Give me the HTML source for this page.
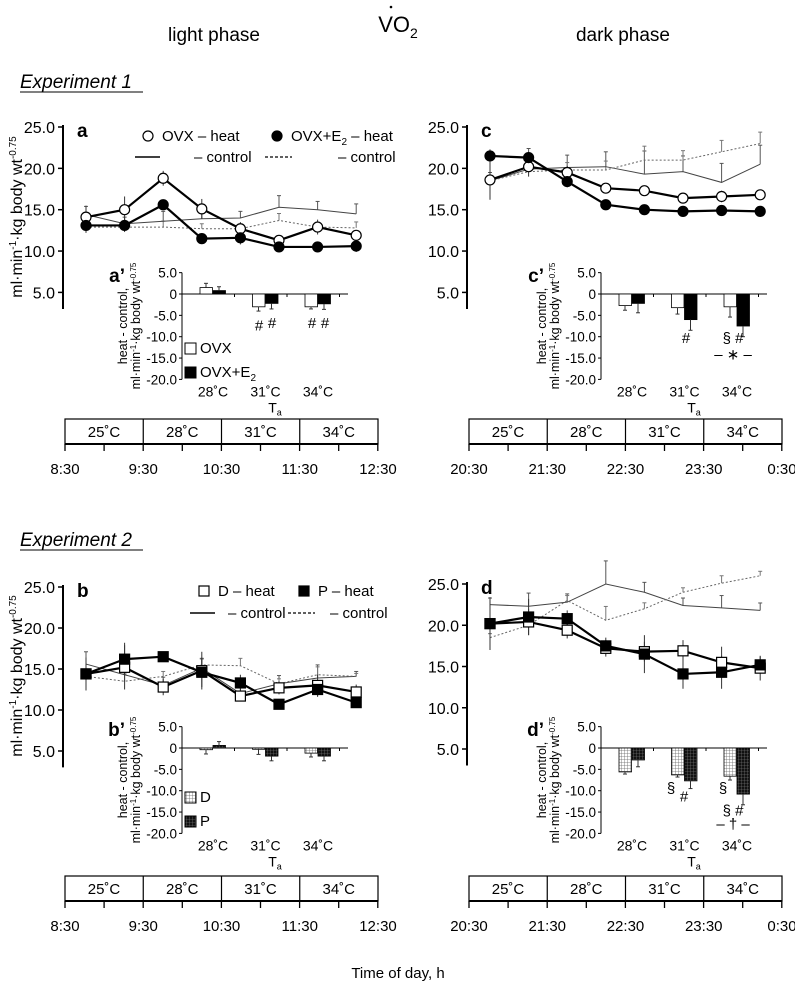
<!DOCTYPE html>
<html><head><meta charset="utf-8">
<style>
html,body{margin:0;padding:0;background:#fff;}
svg{display:block;font-family:"Liberation Sans",Arial,sans-serif;}
</style></head>
<body>
<svg id="fig" width="795" height="987" viewBox="0 0 795 987" xmlns="http://www.w3.org/2000/svg">
<defs>
<pattern id="gridLight" width="3" height="3" patternUnits="userSpaceOnUse"><rect width="3" height="3" fill="#fff"/><path d="M0 0H3M0 0V3" stroke="#666" stroke-width="0.8"/></pattern>
<pattern id="gridDark" width="3" height="3" patternUnits="userSpaceOnUse"><rect width="3" height="3" fill="#111"/><path d="M0 0H3M0 0V3" stroke="#888" stroke-width="0.6"/></pattern>
</defs>
<g id="static">
<text x="398" y="32" font-size="22" text-anchor="middle">VO<tspan font-size="14" dy="6">2</tspan></text>
<circle cx="391" cy="7" r="1.3" fill="#000"/>
<text x="214" y="41" font-size="19" text-anchor="middle">light phase</text>
<text x="623" y="41" font-size="19" text-anchor="middle">dark phase</text>
<text x="20" y="88" font-size="19" font-style="italic">Experiment 1</text>
<line x1="20" y1="92" x2="143" y2="92" stroke="#000" stroke-width="1"/>
<text x="20" y="546" font-size="19" font-style="italic">Experiment 2</text>
<line x1="20" y1="550" x2="143" y2="550" stroke="#000" stroke-width="1"/>
<text x="398" y="978" font-size="15" text-anchor="middle">Time of day, h</text>
<text transform="translate(22,217) rotate(-90)" font-size="16" text-anchor="middle">ml·min<tspan font-size="10" dy="-6">-1</tspan><tspan dy="6">·kg body wt</tspan><tspan font-size="10" dy="-6">-0.75</tspan></text>
<text transform="translate(22,676) rotate(-90)" font-size="16" text-anchor="middle">ml·min<tspan font-size="10" dy="-6">-1</tspan><tspan dy="6">·kg body wt</tspan><tspan font-size="10" dy="-6">-0.75</tspan></text>
</g>
<g id="plots"></g>
</svg>
<script>
// ---- data arrays ----
const timesLight = ["8:30","9:30","10:30","11:30","12:30"];
const timesDark = ["20:30","21:30","22:30","23:30","0:30"];
const tempLabels = ["25˚C","28˚C","31˚C","34˚C"];
const insetCats = ["28˚C","31˚C","34˚C"];
const mainTicks = [25,20,15,10,5];
const insetTicks = [5,0,-5,-10,-15,-20];

// panel a
const aOvxHeat = [14.1,15.0,18.8,15.1,12.7,11.3,12.9,11.9];
const aOvxHeatErr = [1.4,1.6,0.9,1.2,0.8,0.5,0.9,0.6];
const aE2Heat = [13.1,13.1,15.6,11.5,11.6,10.5,10.5,10.6];
const aE2HeatErr = [0.9,0.8,0.5,0.4,0.8,0.4,0.4,0.7];
const aOvxCtrl = [14.4,13.3,13.6,13.9,14.0,15.3,15.0,14.5];
const aE2Ctrl = [12.9,12.9,12.9,12.7,12.7,13.7,12.9,12.8];
const aCtrlErr = [1.0,0.8,1.2,1.0,0.8,1.4,1.0,1.2];
const apOvx = [1.5,-3.0,-3.0];
const apOvxErr = [1.0,1.0,0.5];
const apE2 = [0.8,-2.2,-2.3];
const apE2Err = [0.9,1.3,1.3];
// panel c
const cOvxHeat = [18.6,20.2,19.5,17.6,17.3,16.4,16.6,16.8];
const cOvxHeatErr = [2.4,1.2,0.8,0.6,0.5,0.5,0.7,0.5];
const cE2Heat = [21.5,21.3,18.4,15.6,15.0,14.8,14.9,14.8];
const cE2HeatErr = [0.8,0.7,0.7,0.4,0.3,0.5,0.5,0.5];
const cOvxCtrl = [18.5,19.9,20.1,20.2,19.3,19.6,18.3,20.5];
const cE2Ctrl = [18.5,19.6,19.8,19.8,21.0,21.0,22.0,23.0];
const cCtrlErr = [1.0,2.5,1.5,1.8,2.8,1.9,2.3,2.3];
const cpOvx = [-2.7,-3.2,-3.0];
const cpOvxErr = [1.1,1.5,2.4];
const cpE2 = [-2.2,-6.0,-7.5];
const cpE2Err = [2.2,2.5,2.5];
// panel b
const bDHeat = [14.4,15.2,12.8,14.8,11.7,12.7,13.0,12.2];
const bDHeatErr = [2.0,2.7,1.0,2.3,0.6,0.8,1.3,0.9];
const bPHeat = [14.4,16.2,16.5,14.6,13.3,10.7,12.5,10.9];
const bPHeatErr = [2.0,2.0,0.5,1.8,1.0,0.6,0.9,0.6];
const bDCtrl = [15.6,14.3,13.0,15.1,12.0,13.2,13.9,14.1];
const bPCtrl = [14.1,13.5,14.1,15.5,15.4,13.2,14.3,14.1];
const bCtrlErr = [1.5,1.5,1.0,1.2,1.5,1.0,1.6,0.6];
const bpD = [-0.4,-0.3,-1.2];
const bpDErr = [1.0,1.2,0.9];
const bpP = [0.6,-1.9,-1.9];
const bpPErr = [0.9,1.1,1.1];
// panel d
const dDHeat = [20.2,20.4,19.4,17.2,16.8,16.9,15.5,14.8];
const dDHeatErr = [3.2,1.6,1.0,1.0,1.2,1.3,1.9,1.5];
const dPHeat = [20.2,21.0,20.8,17.5,16.5,14.1,14.3,15.2];
const dPHeatErr = [3.2,2.2,1.0,1.0,2.3,1.8,2.0,1.0];
const dDCtrl = [22.5,22.3,22.8,25.0,24.0,22.4,22.1,21.8];
const dPCtrl = [18.5,20.0,23.0,20.6,22.0,24.0,25.1,26.0];
const dCtrlErr = [0.8,1.6,1.0,2.8,1.2,0.9,1.5,0.9];
const dpD = [-5.6,-6.3,-6.6];
const dpDErr = [0.5,0.5,0.9];
const dpP = [-2.8,-7.7,-10.8];
const dpPErr = [1.6,1.8,2.5];

const NS = "http://www.w3.org/2000/svg";
const root = document.getElementById("plots");
function el(tag, attrs, parent, text){
  const e = document.createElementNS(NS, tag);
  for (const k in attrs) e.setAttribute(k, attrs[k]);
  if (text !== undefined) e.textContent = text;
  (parent || root).appendChild(e);
  return e;
}

function drawPanel(p){
  const g = el("g", {});
  
  
  const x0 = p.axisX, y25 = p.y25, k = p.k;
  const ys = v => y25 + (25 - v) * k;
  const xs = i => x0 + 23 + i * 38.6;
  el("line", {x1:x0, y1:y25-2, x2:x0, y2:ys(3), stroke:"#000","stroke-width":2}, g);
  mainTicks.forEach(t => {
    el("line", {x1:x0-5, y1:ys(t), x2:x0, y2:ys(t), stroke:"#000","stroke-width":1.5}, g);
    const tx = el("text", {x:x0-8, y:ys(t)+6, "font-size":16, "text-anchor":"end"}, g, t.toFixed(1));
    
    
  });
  const lab = el("text", {x:x0+14, y:y25+10, "font-size":19, "font-weight":"bold"}, g, p.letter);
  
  
  const line = (arr, attrs, nm) => {
    const pl = el("polyline", Object.assign({points: arr.map((v,i)=>xs(i)+","+ys(v)).join(" "), fill:"none"}, attrs), g);
    
    
  };
  const errs = (arr, err, col) => arr.forEach((v,i) => {
    el("line", {x1:xs(i), y1:ys(v), x2:xs(i), y2:ys(v+err[i]), stroke:col, "stroke-width":1}, g);
    el("line", {x1:xs(i)-2, y1:ys(v+err[i]), x2:xs(i)+2, y2:ys(v+err[i]), stroke:col, "stroke-width":1}, g);
  });
  errs(p.c1, p.ce, "#555");
  errs(p.c2, p.ce.map(e=>e*0.6), "#777");
  line(p.c1, {stroke:"#444","stroke-width":1}, "control-1-line");
  line(p.c2, {stroke:"#666","stroke-width":1,"stroke-dasharray":"2,2"}, "control-2-line");
  p.h1.forEach((v,i)=>{ el("line",{x1:xs(i),y1:ys(v+p.h1e[i]),x2:xs(i),y2:ys(v-p.h1e[i]),stroke:"#333"},g); });
  p.h2.forEach((v,i)=>{ el("line",{x1:xs(i),y1:ys(v+p.h2e[i]),x2:xs(i),y2:ys(v-p.h2e[i]),stroke:"#333"},g); });
  line(p.h1, {stroke:"#000","stroke-width":2.2}, "heat-1-line");
  line(p.h2, {stroke:"#000","stroke-width":2.2}, "heat-2-line");
  const marker = (arr, fill, nm) => arr.forEach((v,i)=>{
    let m;
    if (p.shape === "circle") m = el("circle", {cx:xs(i), cy:ys(v), r:5, fill:fill, stroke:"#000","stroke-width":1.2}, g);
    else m = el("rect", {x:xs(i)-5, y:ys(v)-5, width:10, height:10, fill:fill, stroke:"#000","stroke-width":1.2}, g);
    
    
  });
  marker(p.h1, "#fff", "heat-1-point");
  marker(p.h2, "#000", "heat-2-point");
  if (p.legend) {
    const L = p.legend;
    const lg = el("g", {}, g);
    
    
    const mk = (x,y,fill) => p.shape==="circle" ? el("circle",{cx:x,cy:y,r:5,fill:fill,stroke:"#000","stroke-width":1.2},lg) : el("rect",{x:x-5,y:y-5,width:10,height:10,fill:fill,stroke:"#000","stroke-width":1.2},lg);
    mk(L.m1, L.y1, "#fff");
    el("text",{x:L.m1+14,y:L.y1+5,"font-size":15},lg,L.t1);
    mk(L.m2, L.y1, "#000");
    const t2 = el("text",{x:L.m2+14,y:L.y1+5,"font-size":15},lg);
    t2.innerHTML = L.t2;
    el("line",{x1:L.l1,y1:L.y2,x2:L.l1+25,y2:L.y2,stroke:"#000","stroke-width":1.5},lg);
    el("text",{x:L.c1,y:L.y2+5,"font-size":15},lg,"– control");
    el("line",{x1:L.l2,y1:L.y2,x2:L.l2+27,y2:L.y2,stroke:"#000","stroke-width":1.2,"stroke-dasharray":"3,2"},lg);
    el("text",{x:L.c2,y:L.y2+5,"font-size":15},lg,"– control");
  }
  const I = p.inset;
  const ig = el("g", {}, g);
  
  
  const iy0 = I.y0, ik = I.k;
  const iy = v => iy0 - v * ik;
  el("line",{x1:I.x,y1:iy(5),x2:I.x,y2:iy(-20),stroke:"#000","stroke-width":1},ig);
  el("line",{x1:I.x,y1:iy(0),x2:I.x+166,y2:iy(0),stroke:"#000","stroke-width":1},ig);
  insetTicks.forEach(t=>{
    el("line",{x1:I.x-3,y1:iy(t),x2:I.x,y2:iy(t),stroke:"#000"},ig);
    el("text",{x:I.x-5,y:iy(t)+5,"font-size":13.5,"text-anchor":"end"},ig, t===0?"0":t.toFixed(1));
  });
  [0,1,2,3].forEach(j=>el("line",{x1:I.x+j*52.5,y1:iy(0),x2:I.x+j*52.5,y2:iy(0)+3,stroke:"#000"},ig));
  el("text",{x:I.x-57,y:iy(0)-12,"font-size":19,"font-weight":"bold","text-anchor":"end"},ig,p.letter+"’");
  const yl = el("text",{transform:`translate(${I.x-55},${iy(-7.5)}) rotate(-90)`,"font-size":12.5,"text-anchor":"middle"},ig);
  yl.innerHTML = '<tspan x="0" dy="0">heat - control,</tspan><tspan x="0" dy="13">ml·min<tspan font-size="8" dy="-4">-1</tspan><tspan dy="4">·kg body wt</tspan><tspan font-size="8" dy="-4">-0.75</tspan></tspan>';
  const bars = (vals, err, dx, fill, nm) => vals.forEach((v,i)=>{
    const cx = I.x + 18 + i*52.5 + dx;
    const top = Math.min(iy(v), iy(0)), h = Math.abs(iy(v)-iy(0));
    const b = el("rect",{x:cx, y:top, width:12.5, height:Math.max(h,0.5), fill:fill, stroke:"#000","stroke-width":0.8},ig);
    
    
    const ve = v>=0 ? v+err[i] : v-err[i];
    el("line",{x1:cx+6,y1:iy(v),x2:cx+6,y2:iy(ve),stroke:"#333"},ig);
    el("line",{x1:cx+4,y1:iy(ve),x2:cx+8,y2:iy(ve),stroke:"#333"},ig);
  });
  bars(I.v1, I.e1, 0, I.f1, "inset-bar-series-1");
  bars(I.v2, I.e2, 13, I.f2, "inset-bar-series-2");
  insetCats.forEach((c,i)=>el("text",{x:I.x+31+i*52.5,y:iy(-20)+17,"font-size":14,"text-anchor":"middle"},ig,c));
  const ta = el("text",{x:I.x+93,y:iy(-20)+33,"font-size":14,"text-anchor":"middle"},ig);
  ta.innerHTML = 'T<tspan font-size="9" dy="3">a</tspan>';
  if (I.leg) {
    el("rect",{x:I.x+3,y:I.legY-10,width:11,height:11,fill:I.f1,stroke:"#000"},ig);
    el("text",{x:I.x+18,y:I.legY,"font-size":15},ig,I.leg[0]);
    el("rect",{x:I.x+3,y:I.legY+14,width:11,height:11,fill:I.f2,stroke:"#000"},ig);
    const t = el("text",{x:I.x+18,y:I.legY+24,"font-size":15},ig); t.innerHTML = I.leg[1];
  }
  (I.marks||[]).forEach(m=>el("text",{x:I.x+m[0],y:iy(m[1]),"font-size":15,"text-anchor":"middle"},ig,m[2]));
  const T = p.time;
  const tg = el("g",{},g);
  
  
  el("rect",{x:x0+2,y:T.y,width:313,height:25,fill:"#fff",stroke:"#000","stroke-width":1.2},tg);
  el("line",{x1:x0+2,y1:T.y+25,x2:x0+315,y2:T.y+25,stroke:"#000","stroke-width":2},tg);
  tempLabels.forEach((t,i)=>{
    if(i>0) el("line",{x1:x0+2+i*78.25,y1:T.y,x2:x0+2+i*78.25,y2:T.y+25,stroke:"#000","stroke-width":1.2},tg);
    el("text",{x:x0+2+i*78.25+39,y:T.y+18,"font-size":15,"text-anchor":"middle"},tg,t);
  });
  for(let j=0;j<=8;j++) el("line",{x1:x0+2+j*39.1,y1:T.y+25,x2:x0+2+j*39.1,y2:T.y+32,stroke:"#000","stroke-width":1.3},tg);
  T.labels.forEach((t,i)=>{
    const tx = el("text",{x:x0+2+i*78.25,y:T.y+55,"font-size":15,"text-anchor":"middle"},tg,t);
    
    
  });
}

drawPanel({name:"panel-a", letter:"a", axisX:63, y25:127, k:8.27, shape:"circle",
  h1:aOvxHeat,h1e:aOvxHeatErr,h2:aE2Heat,h2e:aE2HeatErr,c1:aOvxCtrl,c2:aE2Ctrl,ce:aCtrlErr,
  legend:{m1:148,m2:277,y1:136,y2:157,t1:"OVX – heat",t2:'OVX+E<tspan font-size="10" dy="4">2</tspan><tspan dy="-4"> – heat</tspan>',l1:135,c1:194,l2:265,c2:338},
  inset:{x:182,y0:294,k:4.27,v1:apOvx,e1:apOvxErr,v2:apE2,e2:apE2Err,f1:"#fff",f2:"#000",leg:["OVX",'OVX+E<tspan font-size="10" dy="4">2</tspan>'],legY:353,
    marks:[[77,-8.5,"#"],[90,-8,"#"],[130,-8,"#"],[143,-8,"#"]]},
  time:{y:419,labels:timesLight}});
drawPanel({name:"panel-c", letter:"c", axisX:467, y25:127, k:8.27, shape:"circle",
  h1:cOvxHeat,h1e:cOvxHeatErr,h2:cE2Heat,h2e:cE2HeatErr,c1:cOvxCtrl,c2:cE2Ctrl,ce:cCtrlErr,
  inset:{x:601,y0:294,k:4.27,v1:cpOvx,e1:cpOvxErr,v2:cpE2,e2:cpE2Err,f1:"#fff",f2:"#000",
    marks:[[85,-11.5,"#"],[132,-11.5,"§ #"],[132,-15.3,"– ∗ –"]]},
  time:{y:419,labels:timesDark}});
drawPanel({name:"panel-b", letter:"b", axisX:63, y25:587, k:8.2, shape:"square",
  h1:bDHeat,h1e:bDHeatErr,h2:bPHeat,h2e:bPHeatErr,c1:bDCtrl,c2:bPCtrl,ce:bCtrlErr,
  legend:{m1:204,m2:304,y1:591,y2:613,t1:"D – heat",t2:"P – heat",l1:190,c1:228,l2:288,c2:330},
  inset:{x:182,y0:748,k:4.27,v1:bpD,e1:bpDErr,v2:bpP,e2:bpPErr,f1:"url(#gridLight)",f2:"url(#gridDark)",leg:["D","P"],legY:802},
  time:{y:876,labels:timesLight}});
drawPanel({name:"panel-d", letter:"d", axisX:467, y25:584, k:8.25, shape:"square",
  h1:dDHeat,h1e:dDHeatErr,h2:dPHeat,h2e:dPHeatErr,c1:dDCtrl,c2:dPCtrl,ce:dCtrlErr,
  inset:{x:601,y0:748,k:4.27,v1:dpD,e1:dpDErr,v2:dpP,e2:dpPErr,f1:"url(#gridLight)",f2:"url(#gridDark)",
    marks:[[70,-10.5,"§"],[83,-12.5,"#"],[122,-10.5,"§"],[132,-15.8,"§ #"],[132,-19,"– † –"]]},
  time:{y:876,labels:timesDark}});
</script>
</body></html>
